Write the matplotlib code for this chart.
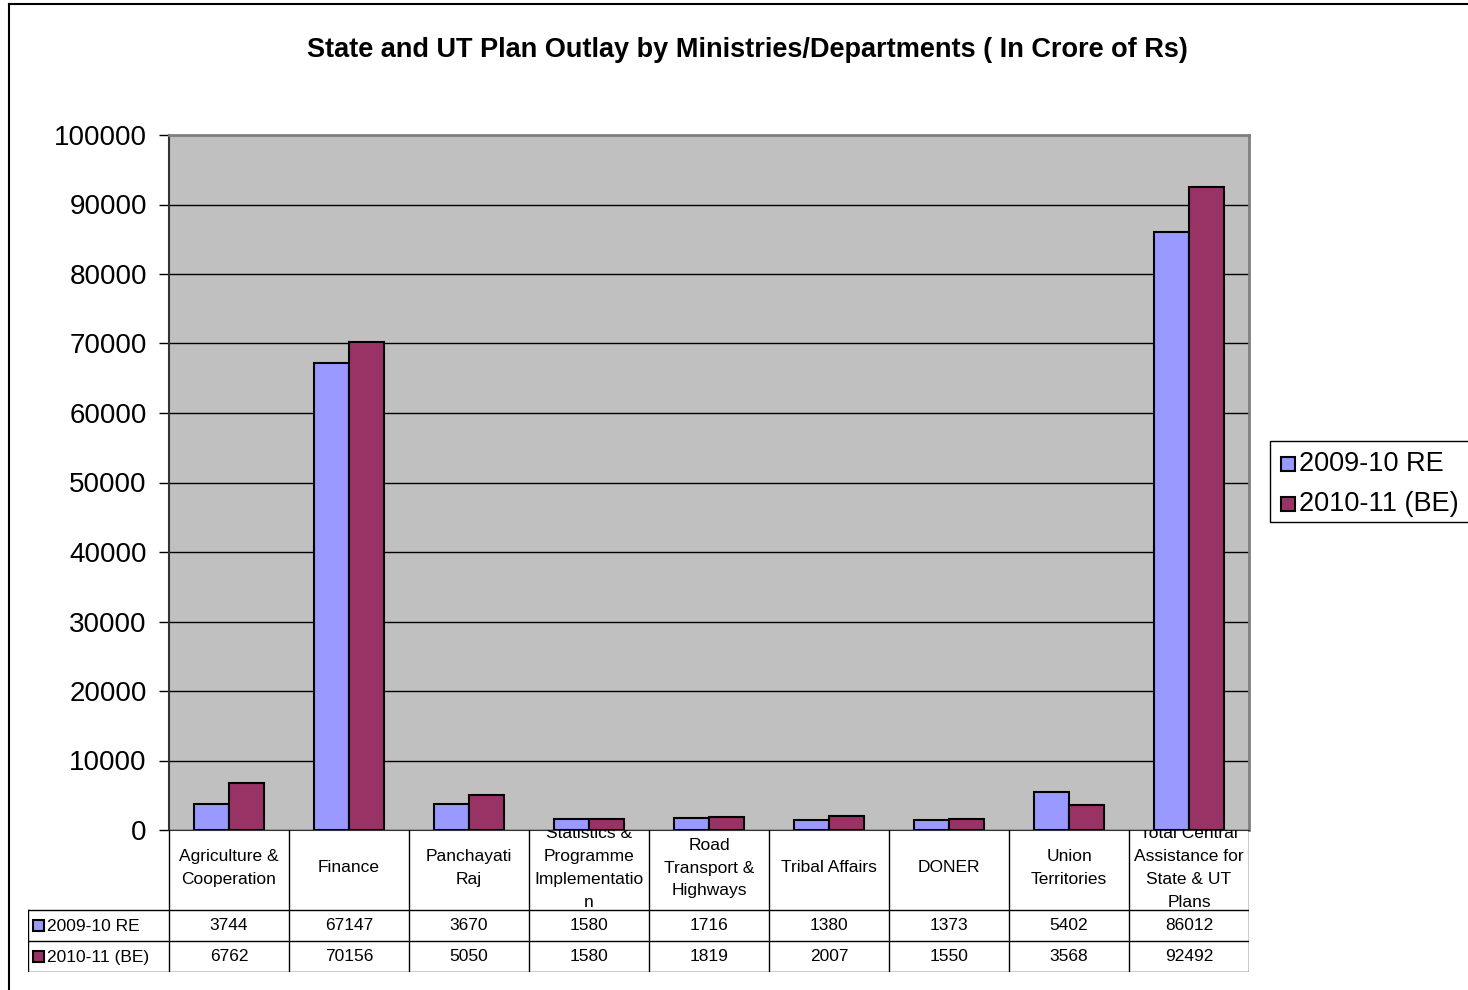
import numpy as np
import matplotlib
matplotlib.use("Agg")
import matplotlib.pyplot as plt
from matplotlib.patches import Rectangle
from matplotlib.lines import Line2D

plt.rcParams['font.family'] = ['Liberation Sans', 'DejaVu Sans']

categories = ["Agriculture &\nCooperation", "Finance", "Panchayati\nRaj",
              "Statistics &\nProgramme\nImplementatio\nn", "Road\nTransport &\nHighways",
              "Tribal Affairs", "DONER", "Union\nTerritories",
              "Total Central\nAssistance for\nState & UT\nPlans"]
re_2009 = [3744, 67147, 3670, 1580, 1716, 1380, 1373, 5402, 86012]
be_2010 = [6762, 70156, 5050, 1580, 1819, 2007, 1550, 3568, 92492]
series_names = ["2009-10 RE", "2010-11 (BE)"]
colors = ["#9999FF", "#993366"]
yticks = np.arange(0, 100001, 10000)

W, H = 1468, 990
fig = plt.figure(figsize=(W / 100, H / 100), dpi=100)

def px(x0, y0, x1, y1):
    # pixel box (top-left origin) -> figure fraction rect
    return [x0 / W, 1 - y1 / H, (x1 - x0) / W, (y1 - y0) / H]

# outer chart border (left and top visible)
fig.add_artist(Line2D([9 / W, 9 / W], [0, 1 - 4 / H], color="black", lw=1.5))
fig.add_artist(Line2D([9 / W, 1], [1 - 4 / H, 1 - 4 / H], color="black", lw=1.5))

fig.text(747 / W, 1 - 50 / H,
         "State and UT Plan Outlay by Ministries/Departments ( In Crore of Rs)",
         ha="center", va="center", fontsize=19.5, fontweight="bold")

ax = fig.add_axes(px(169, 135, 1249, 830))
ax.set_facecolor("#C0C0C0")
x = np.arange(len(categories)) + 0.5
bw = 0.29
ax.bar(x - bw / 2, re_2009, bw, color=colors[0], edgecolor="black", lw=1.5, zorder=3)
ax.bar(x + bw / 2, be_2010, bw, color=colors[1], edgecolor="black", lw=1.5, zorder=3)
ax.set_xlim(0, len(categories))
ax.set_ylim(0, 100000)
ax.set_yticks(yticks)
ax.set_yticklabels([str(v) for v in yticks], fontsize=20)
ax.tick_params(axis="y", length=7, width=1, pad=9)
ax.set_xticks([])
ax.yaxis.grid(True, color="black", lw=1, zorder=1)
ax.set_axisbelow(True)
ax.spines["left"].set_color("#333333")
ax.spines["left"].set_linewidth(1.5)
ax.spines["bottom"].set_color("#333333")
for s in ["top", "right"]:
    ax.spines[s].set_color("#808080")
    ax.spines[s].set_linewidth(2)

# data table under the plot
lab_w = 141 / 120
tab = fig.add_axes(px(28, 830, 1249, 972))
tab.set_xlim(-lab_w, len(categories))
tab.set_ylim(142, 0)
tab.axis("off")
lc = "black"
for i in range(len(categories) + 1):
    tab.plot([i, i], [0, 142], color=lc, lw=1)
tab.plot([-lab_w, -lab_w], [80, 142], color=lc, lw=1)
for yy in [80, 111, 142]:
    tab.plot([-lab_w, len(categories)], [yy, yy], color=lc, lw=1)
for i, c in enumerate(categories):
    tab.text(i + 0.5, 38, c, ha="center", va="center", fontsize=12.5,
             linespacing=1.65, clip_on=True)
for row, (vals, name, col) in enumerate(zip([re_2009, be_2010], series_names, colors)):
    yc = 95.5 + row * 31
    for i, v in enumerate(vals):
        tab.text(i + 0.5, yc, str(v), ha="center", va="center", fontsize=12.5)
    tab.add_patch(Rectangle((-lab_w + 0.045, yc - 5.5), 0.09, 11, facecolor=col,
                            edgecolor="black", lw=1.5))
    tab.text(-lab_w + 0.16, yc + 1, name, ha="left", va="center", fontsize=12.5)

# legend
fig.add_artist(Rectangle((1270 / W, 1 - 522 / H), 300 / W, 81 / H, transform=fig.transFigure,
                         facecolor="white", edgecolor="black", lw=1))
for k, (name, col) in enumerate(zip(series_names, colors)):
    yc = 464 + k * 40
    fig.add_artist(Rectangle((1281 / W, 1 - (yc + 7) / H), 14 / W, 14 / H,
                             transform=fig.transFigure, facecolor=col,
                             edgecolor="black", lw=1.5))
    fig.text(1299 / W, 1 - yc / H, name, ha="left", va="center", fontsize=19.5)

fig.savefig("out.png", dpi=100)
